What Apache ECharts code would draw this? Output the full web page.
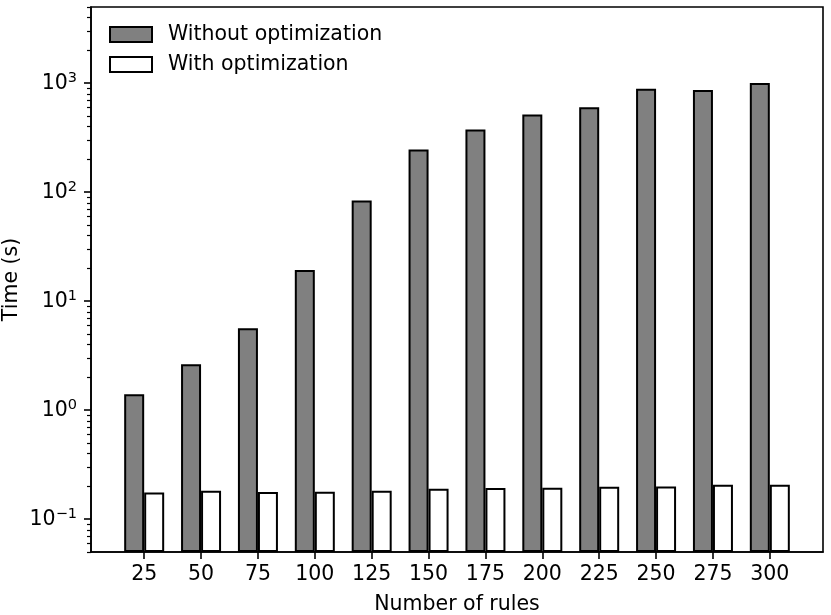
<!DOCTYPE html>
<html>
<head>
<meta charset="UTF-8">
<script src="https://cdn.jsdelivr.net/npm/echarts@6/dist/echarts.min.js"></script>
<style>
html, body { margin: 0; padding: 0; background: #fff; }
#main { width: 831px; height: 615px; }
</style>
</head>
<body>
<div id="main"></div>
<script>
// number of rules
var categories = ['25', '50', '75', '100', '125', '150', '175', '200', '225', '250', '275', '300'];
// time in seconds
var withoutOpt = [1.40, 2.64, 5.65, 19.3, 84, 247, 376, 517, 603, 887, 868, 1006];
var withOpt = [0.176, 0.182, 0.178, 0.179, 0.182, 0.190, 0.193, 0.194, 0.198, 0.199, 0.207, 0.207];
var majorTicks = [0.1, 1, 10, 100, 1000];
var yMin = 0.05, yMax = 5000;

var font = 'DejaVu Sans';
var fs = 20.5;
var positions = categories.map(function (c, i) { return i; });

// minor ticks 2..9 of each decade, inside the axis range
var minorTicks = [];
for (var e = -2; e <= 3; e++) {
    for (var m = 2; m <= 9; m++) {
        var v = m * Math.pow(10, e);
        if (v >= yMin && v <= yMax) minorTicks.push(v);
    }
}

var chart = echarts.init(document.getElementById('main'));
chart.setOption({
    animation: false,
    backgroundColor: '#fff',
    textStyle: { fontFamily: font, color: '#000' },
    grid: {
        left: 91, right: 8, top: 7, bottom: 63,
        show: true, borderColor: '#000', borderWidth: 1.6,
        containLabel: false,
        outerBoundsMode: 'none'
    },
    legend: {
        orient: 'vertical',
        left: 109, top: 24,
        padding: 0,
        itemWidth: 42, itemHeight: 15, itemGap: 9,
        icon: 'rect',
        textStyle: { fontFamily: font, fontSize: fs, color: '#000', padding: [0, 0, 0, 11] },
        data: [
            { name: 'Without optimization', itemStyle: { color: '#808080', borderColor: '#000', borderWidth: 2 } },
            { name: 'With optimization', itemStyle: { color: '#fff', borderColor: '#000', borderWidth: 2 } }
        ]
    },
    xAxis: {
        type: 'value',
        min: -0.935, max: 11.935,
        name: 'Number of rules',
        nameLocation: 'middle',
        nameGap: 42,
        nameMoveOverlap: false,
        nameTextStyle: { fontFamily: font, fontSize: fs, color: '#000' },
        axisLine: { show: true, onZero: false, lineStyle: { color: '#000', width: 1.6 } },
        axisTick: { show: true, length: 7, lineStyle: { color: '#000', width: 1.6 }, customValues: positions },
        axisLabel: {
            customValues: positions,
            margin: 12,
            fontFamily: font, fontSize: fs, color: '#000',
            formatter: function (v) { return categories[Math.round(v)]; }
        },
        splitLine: { show: false }
    },
    yAxis: [{
        type: 'log',
        logBase: 10,
        min: yMin, max: yMax,
        startValue: yMin,
        position: 'left',
        name: 'Time (s)',
        nameLocation: 'middle',
        nameGap: 69,
        nameMoveOverlap: false,
        nameRotate: 90,
        nameTextStyle: { fontFamily: font, fontSize: fs, color: '#000' },
        axisLine: { show: true, onZero: false, lineStyle: { color: '#000', width: 1.6 } },
        axisTick: { show: true, length: 7, lineStyle: { color: '#000', width: 1.6 }, customValues: majorTicks },
        axisLabel: {
            customValues: majorTicks,
            margin: 14,
            fontFamily: font, fontSize: fs, color: '#000',
            formatter: function (v) {
                var p = Math.round(Math.log10(v));
                return '10{sup|' + (p < 0 ? '\u2212' + (-p) : p) + '}';
            },
            rich: {
                sup: { fontFamily: font, fontSize: 14.5, color: '#000', padding: [0, 0, 10, 0] }
            }
        },
        splitLine: { show: false }
    }, {
        type: 'log',
        logBase: 10,
        min: yMin, max: yMax,
        position: 'left',
        axisLine: { show: false, onZero: false },
        axisTick: { show: true, length: 4, lineStyle: { color: '#000', width: 1.2 }, customValues: minorTicks },
        axisLabel: { show: false },
        splitLine: { show: false }
    }],
    series: [{
        name: 'Without optimization',
        type: 'bar',
        barWidth: 20,
        barGap: '0%',
        itemStyle: { color: '#808080', borderColor: '#000', borderWidth: 2 },
        data: withoutOpt.map(function (v, i) { return [positions[i], v]; })
    }, {
        name: 'With optimization',
        type: 'bar',
        barWidth: 20,
        barGap: '0%',
        itemStyle: { color: '#fff', borderColor: '#000', borderWidth: 2 },
        data: withOpt.map(function (v, i) { return [positions[i], v]; })
    }]
});
</script>
</body>
</html>
